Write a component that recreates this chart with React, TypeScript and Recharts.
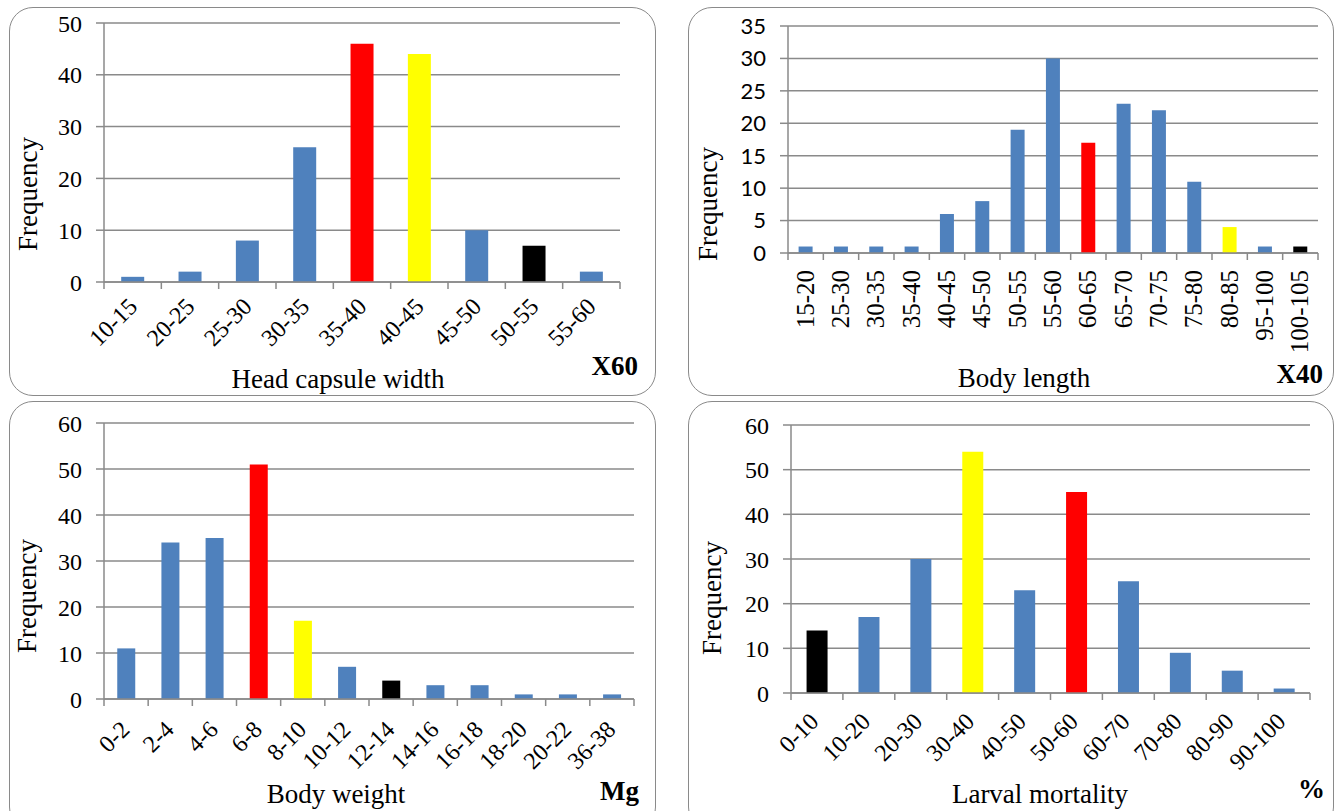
import React from 'react';
import { BarChart, Bar, Cell, XAxis, YAxis, CartesianGrid } from 'recharts';

// ---- data ----
const headCats = ['10-15', '20-25', '25-30', '30-35', '35-40', '40-45', '45-50', '50-55', '55-60'];
const headVals = [1, 2, 8, 26, 46, 44, 10, 7, 2];
const headTicks = [0, 10, 20, 30, 40, 50];

const lengthCats = ['15-20', '25-30', '30-35', '35-40', '40-45', '45-50', '50-55', '55-60', '60-65', '65-70', '70-75', '75-80', '80-85', '95-100', '100-105'];
const lengthVals = [1, 1, 1, 1, 6, 8, 19, 30, 17, 23, 22, 11, 4, 1, 1];
const lengthTicks = [0, 5, 10, 15, 20, 25, 30, 35];

const weightCats = ['0-2', '2-4', '4-6', '6-8', '8-10', '10-12', '12-14', '14-16', '16-18', '18-20', '20-22', '36-38'];
const weightVals = [11, 34, 35, 51, 17, 7, 4, 3, 3, 1, 1, 1];
const weightTicks = [0, 10, 20, 30, 40, 50, 60];

const mortCats = ['0-10', '10-20', '20-30', '30-40', '40-50', '50-60', '60-70', '70-80', '80-90', '90-100'];
const mortVals = [14, 17, 30, 54, 23, 45, 25, 9, 5, 1];
const mortTicks = [0, 10, 20, 30, 40, 50, 60];

// bar colours (B = blue, R = red, Y = yellow, K = black)
const B = '#4f81bd';
const R = '#ff0000';
const Y = '#ffff00';
const K = '#000000';
const headColors = [B, B, B, B, R, Y, B, K, B];
const lengthColors = [B, B, B, B, B, B, B, B, R, B, B, B, Y, B, K];
const weightColors = [B, B, B, R, Y, B, K, B, B, B, B, B];
const mortColors = [K, B, B, Y, B, R, B, B, B, B];

const SERIF = '"Liberation Serif", "Times New Roman", serif';
const SANS = 'Lato, "Liberation Sans", sans-serif';
const GRID = '#8a8a8a';

interface PanelProps {
  left: number;
  top: number;
  width: number;
  height: number;
  boxHeight: number;
  cats: string[];
  vals: number[];
  colors: string[];
  ticks: number[];
  yWidth: number;
  mTop: number;
  mRight: number;
  xHeight: number;
  yFont: string;
  yFontSize: number;
  xFontSize: number;
  angle: number;
  tdx: number;
  tdy: number;
}

const CatTick = (props: any) => {
  const { x, y, payload, index, bw, n, angle, tdx, tdy, fontSize } = props;
  const ax = x + tdx;
  const ay = y + tdy;
  return (
    <g>
      <line x1={x - bw / 2} x2={x - bw / 2} y1={y} y2={y + 7} stroke={GRID} strokeWidth={1.5} />
      {index === n - 1 && (
        <line x1={x + bw / 2} x2={x + bw / 2} y1={y} y2={y + 7} stroke={GRID} strokeWidth={1.5} />
      )}
      <text
        x={ax}
        y={ay}
        textAnchor="end"
        transform={`rotate(${angle}, ${ax}, ${ay})`}
        fontFamily={SERIF}
        fontSize={fontSize}
        fill="#000"
      >
        {payload.value}
      </text>
    </g>
  );
};

const Panel: React.FC<PanelProps> = (p) => {
  const rows = p.cats.map((c, i) => ({ cat: c, v: p.vals[i] }));
  const plotW = p.width - p.yWidth - p.mRight;
  const bw = plotW / p.cats.length;
  return (
    <>
      <div
        style={{
          position: 'absolute',
          left: p.left,
          top: p.top,
          width: p.width,
          height: p.boxHeight,
          boxSizing: 'border-box',
          border: `1.5px solid ${GRID}`,
          borderRadius: 24,
          background: '#fff',
        }}
      />
      <div style={{ position: 'absolute', left: p.left, top: p.top }}>
        <BarChart
          width={p.width}
          height={p.height}
          data={rows}
          margin={{ top: p.mTop, right: p.mRight, bottom: 0, left: 0 }}
          barCategoryGap="30%"
        >
          <CartesianGrid vertical={false} stroke={GRID} strokeWidth={1.5} />
          <XAxis
            dataKey="cat"
            interval={0}
            height={p.xHeight}
            tickSize={0}
            tickMargin={0}
            tickLine={false}
            axisLine={{ stroke: GRID, strokeWidth: 1.5 }}
            tick={(tp: any) => (
              <CatTick
                {...tp}
                bw={bw}
                n={p.cats.length}
                angle={p.angle}
                tdx={p.tdx}
                tdy={p.tdy}
                fontSize={p.xFontSize}
              />
            )}
          />
          <YAxis
            domain={[0, p.ticks[p.ticks.length - 1]]}
            ticks={p.ticks}
            interval={0}
            width={p.yWidth}
            tickSize={8}
            tickMargin={14}
            axisLine={{ stroke: GRID, strokeWidth: 1.5 }}
            tickLine={{ stroke: GRID, strokeWidth: 1.5 }}
            tick={{ fontFamily: p.yFont, fontSize: p.yFontSize, fill: '#000' }}
          />
          <Bar dataKey="v" isAnimationActive={false}>
            {rows.map((_, i) => (
              <Cell key={i} fill={p.colors[i]} />
            ))}
          </Bar>
        </BarChart>
      </div>
    </>
  );
};

const Title = ({ x, y, children, bold, rotate, anchor }: any) => (
  <text
    x={x}
    y={y}
    textAnchor={anchor || 'middle'}
    fontFamily={SERIF}
    fontSize={27}
    fontWeight={bold ? 'bold' : 'normal'}
    transform={rotate ? `rotate(-90, ${x}, ${y})` : undefined}
    fill="#000"
  >
    {children}
  </text>
);

export default function App() {
  return (
    <div
      style={{
        position: 'absolute',
        left: 0,
        top: 0,
        width: 1335,
        height: 811,
        overflow: 'hidden',
        background: '#fff',
      }}
    >
      <Panel
        left={9} top={7} width={647} height={389} boxHeight={389}
        cats={headCats} vals={headVals} colors={headColors} ticks={headTicks}
        yWidth={95} mTop={16} mRight={36} xHeight={114}
        yFont={SERIF} yFontSize={24} xFontSize={24} angle={-45} tdx={6} tdy={26}
      />
      <Panel
        left={688} top={7} width={646} height={389} boxHeight={389}
        cats={lengthCats} vals={lengthVals} colors={lengthColors} ticks={lengthTicks}
        yWidth={100} mTop={19} mRight={16} xHeight={143}
        yFont={SANS} yFontSize={22} xFontSize={25} angle={-90} tdx={8} tdy={17}
      />
      <Panel
        left={9} top={401} width={647} height={410} boxHeight={430}
        cats={weightCats} vals={weightVals} colors={weightColors} ticks={weightTicks}
        yWidth={95} mTop={22} mRight={22} xHeight={112}
        yFont={SERIF} yFontSize={24} xFontSize={24} angle={-45} tdx={5} tdy={32}
      />
      <Panel
        left={688} top={401} width={646} height={410} boxHeight={430}
        cats={mortCats} vals={mortVals} colors={mortColors} ticks={mortTicks}
        yWidth={103} mTop={24} mRight={24} xHeight={118}
        yFont={SERIF} yFontSize={24} xFontSize={24} angle={-45} tdx={3} tdy={30}
      />
      <svg
        width={1335}
        height={811}
        style={{ position: 'absolute', left: 0, top: 0, pointerEvents: 'none' }}
      >
        <Title x={37} y={194} rotate>Frequency</Title>
        <Title x={717} y={204} rotate>Frequency</Title>
        <Title x={36} y={596} rotate>Frequency</Title>
        <Title x={721} y={598} rotate>Frequency</Title>

        <Title x={338} y={388}>Head capsule width</Title>
        <Title x={1024} y={387}>Body length</Title>
        <Title x={336} y={803}>Body weight</Title>
        <Title x={1040} y={803}>Larval mortality</Title>

        <Title x={638} y={375} anchor="end" bold>X60</Title>
        <Title x={1323} y={383} anchor="end" bold>X40</Title>
        <Title x={639} y={800} anchor="end" bold>Mg</Title>
        <Title x={1325} y={798} anchor="end" bold>%</Title>
      </svg>
    </div>
  );
}
